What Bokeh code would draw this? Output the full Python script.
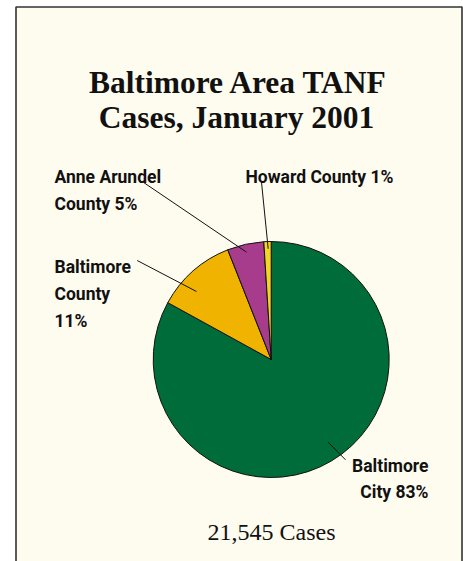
import numpy as np
from bokeh.plotting import figure
from bokeh.models import Range1d, ColumnDataSource
from bokeh.core.properties import value
from bokeh.embed import file_html
from bokeh.resources import INLINE

# ---- data ----
title_lines = ["Baltimore Area TANF", "Cases, January 2001"]
areas = ["Baltimore City", "Baltimore County", "Anne Arundel County", "Howard County"]
percents = [83, 11, 5, 1]
colors = ["#006C3A", "#F0B400", "#A63C8B", "#F3D524"]
total_cases = 21545

W, H = 463, 561
def Y(py):
    return H - py

p = figure(width=W, height=H, x_range=Range1d(0, W), y_range=Range1d(0, H),
           output_backend="svg", toolbar_location=None, min_border=0)
p.axis.visible = False
p.grid.visible = False
p.outline_line_color = None
p.background_fill_color = "white"
p.border_fill_color = "white"

# frame
p.quad(left=[15.5], right=[461.5], top=[Y(6.5)], bottom=[Y(590)],
       fill_color="#FEFBEF", line_color="#333333", line_width=1.6)

# pie (clockwise from 12 o'clock)
cx, cy, r = 270.7, Y(359), 118
frac = np.array(percents, dtype=float) / np.sum(percents)
cum = np.concatenate([[0], np.cumsum(frac)])
start = np.pi / 2 - cum[1:] * 2 * np.pi
end = np.pi / 2 - cum[:-1] * 2 * np.pi
src = ColumnDataSource(dict(start=start, end=end, color=colors))
p.wedge(x=cx, y=cy, radius=r, start_angle="start", end_angle="end",
        fill_color="color", line_color="#111111", line_width=1, source=src)

# leader lines
lx0 = [142.7, 261.0, 136.7, 327.7]
ly0 = [181.7, 181.7, 260.0, 441.7]
lx1 = [246.0, 267.7, 196.0, 345.0]
ly1 = [251.7, 248.3, 291.0, 459.3]
p.segment(x0=lx0, y0=[Y(v) for v in ly0], x1=lx1, y1=[Y(v) for v in ly1],
          line_color="#111111", line_width=1)

# title
serif = value("Liberation Serif")
p.text(x=[238, 236], y=[Y(82), Y(117)], text=title_lines, text_font=serif,
       text_font_style="bold", text_font_size="31.5px", text_align="center",
       text_baseline="alphabetic", text_color="#111111")

# labels
lab_font = value("Roboto")
def pct(i):
    return f"{percents[i]}%"
left_texts = ["Anne Arundel", f"County {pct(2)}", f"Howard County {pct(3)}",
              "Baltimore", "County", pct(1)]
left_x = [54, 54, 245, 54, 54, 54]
left_y = [176.5, 203, 176.5, 266, 293, 320]
p.text(x=left_x, y=[Y(v) for v in left_y], text=left_texts, text_font=lab_font,
       text_font_style="bold", text_font_size="17.5px", text_align="left",
       text_baseline="alphabetic", text_color="#111111")
right_texts = ["Baltimore", f"City {pct(0)}"]
p.text(x=[428, 428], y=[Y(465), Y(491.7)], text=right_texts, text_font=lab_font,
       text_font_style="bold", text_font_size="17.5px", text_align="right",
       text_baseline="alphabetic", text_color="#111111")

# total
p.text(x=[271], y=[Y(531)], text=[f"{total_cases:,} Cases"], text_font=serif,
       text_font_size="24px", text_align="center", text_baseline="alphabetic",
       text_color="#111111")

open("out.html", "w").write(file_html(p, INLINE))
